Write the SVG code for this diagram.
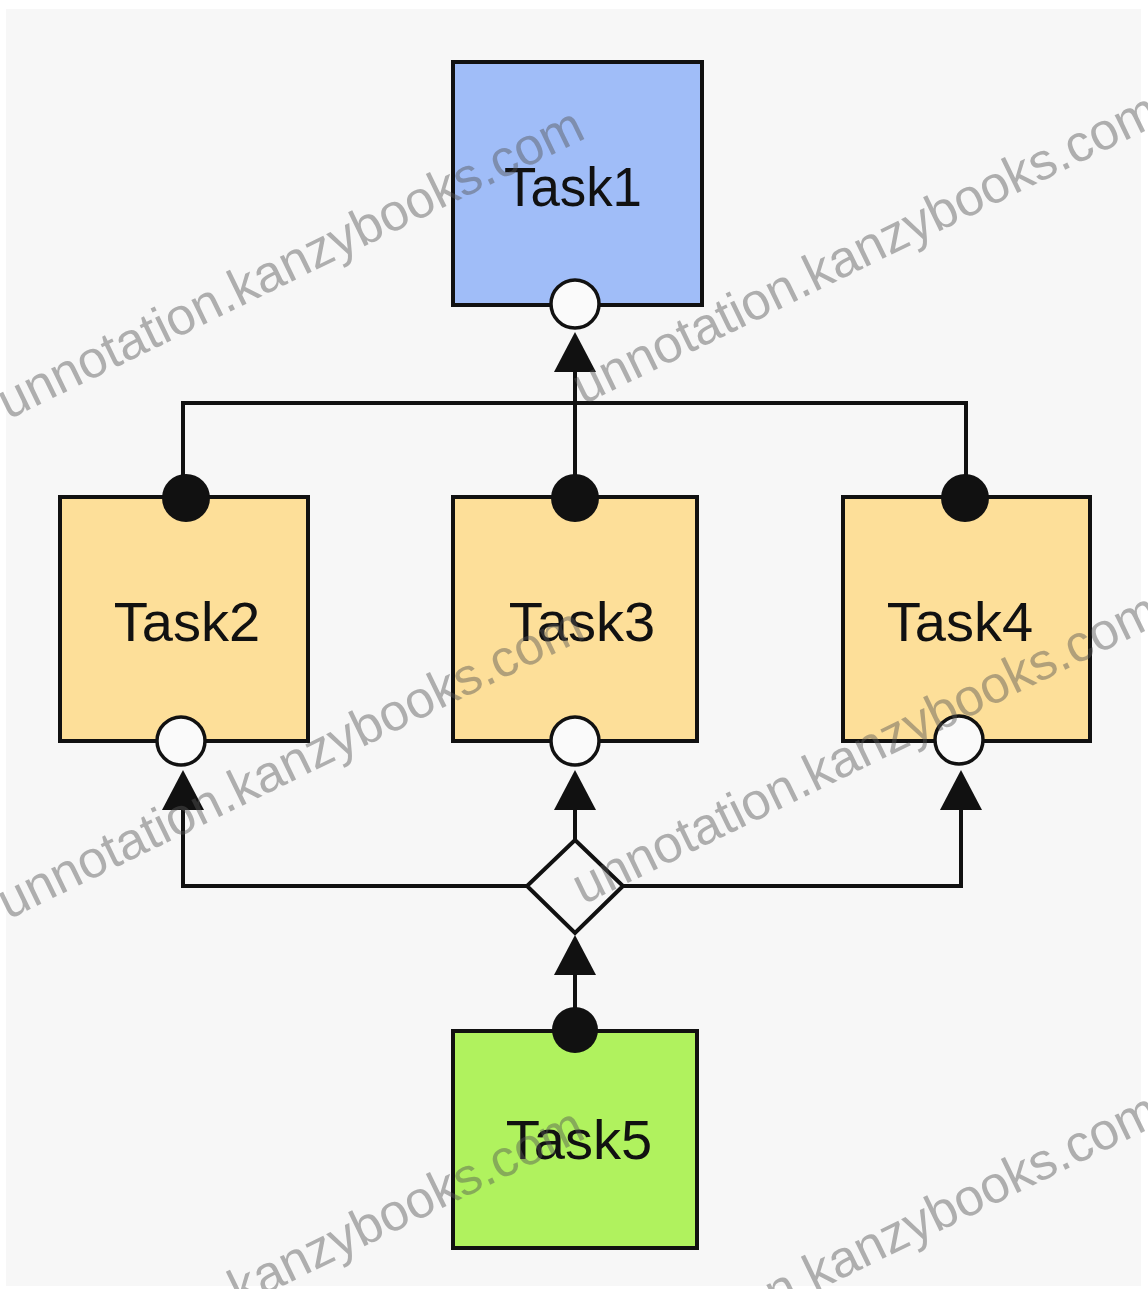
<svg xmlns="http://www.w3.org/2000/svg" width="1148" height="1289" viewBox="0 0 1148 1289">
  <style>
    .box { stroke: #111; stroke-width: 4; }
    .task1 { fill: #a0bdf8; }
    .task-mid { fill: #fddf99; }
    .task5 { fill: #b0f25e; }
    .label { font-family: "Liberation Sans", Arial, sans-serif; font-size: 56px; text-anchor: middle; fill: #111; }
    .wire { fill: none; stroke: #111; stroke-width: 4; }
    .port-open { fill: #fafafa; stroke: #111; stroke-width: 3.5; }
    .port-filled { fill: #111; }
    .gate { fill: #f7f7f7; stroke: #111; stroke-width: 4; }
    .mark { font-family: "Liberation Sans", Arial, sans-serif; font-size: 52px; fill: #555; fill-opacity: 0.45; }
  </style>
  <defs>
    <marker id="arrow" viewBox="0 0 40 42" refX="0" refY="21" markerWidth="40" markerHeight="42" markerUnits="userSpaceOnUse" orient="auto">
      <path d="M0,0 L40,21 L0,42 Z" fill="#111"/>
    </marker>
  </defs>

  <!-- page -->
  <rect x="0" y="0" width="1148" height="1289" fill="#ffffff"/>
  <rect x="6" y="9" width="1135" height="1277" fill="#f7f7f7"/>

  <!-- connectors -->
  <g id="connectors">
    <!-- Task2/Task3/Task4 bus up to Task1 -->
    <path class="wire" d="M183,498 V403 H966 V498"/>
    <path class="wire" d="M575,498 V372" marker-end="url(#arrow)"/>
    <!-- Task5 into the gateway -->
    <path class="wire" d="M575,1030 V975" marker-end="url(#arrow)"/>
    <!-- gateway out to Task2/Task3/Task4 -->
    <path class="wire" d="M527,886 H183 V810" marker-end="url(#arrow)"/>
    <path class="wire" d="M623,886 H961 V810" marker-end="url(#arrow)"/>
    <path class="wire" d="M575,840 V810" marker-end="url(#arrow)"/>
  </g>

  <g id="gateway">
    <polygon class="gate" points="575,840 623,886 575,933 527,886"/>
  </g>

  <g id="task1">
    <rect class="box task1" x="453" y="62" width="249" height="243"/>
    <text class="label" x="573" y="206" fill="#0b1a33" textLength="138" lengthAdjust="spacingAndGlyphs">Task1</text>
    <circle class="port-open" cx="575" cy="304" r="24"/>
  </g>

  <g id="task2">
    <rect class="box task-mid" x="60" y="497" width="248" height="244"/>
    <text class="label" x="187" y="641">Task2</text>
    <circle class="port-filled" cx="186" cy="498" r="24"/>
    <circle class="port-open" cx="181" cy="741" r="24"/>
  </g>

  <g id="task3">
    <rect class="box task-mid" x="453" y="497" width="244" height="244"/>
    <text class="label" x="582" y="641">Task3</text>
    <circle class="port-filled" cx="575" cy="498" r="24"/>
    <circle class="port-open" cx="575" cy="741" r="24"/>
  </g>

  <g id="task4">
    <rect class="box task-mid" x="843" y="497" width="247" height="244"/>
    <text class="label" x="960" y="641">Task4</text>
    <circle class="port-filled" cx="965" cy="498" r="24"/>
    <circle class="port-open" cx="959" cy="740" r="24"/>
  </g>

  <g id="task5">
    <rect class="box task5" x="453" y="1031" width="244" height="217"/>
    <text class="label" x="579" y="1159" fill="#0a2400">Task5</text>
    <circle class="port-filled" cx="575" cy="1030" r="23"/>
  </g>

  <!-- overlay lettering -->
  <g id="overlay-text">
    <text class="mark" transform="translate(8,420) rotate(-26)">unnotation.kanzybooks.com</text>
    <text class="mark" transform="translate(583,405) rotate(-26)">unnotation.kanzybooks.com</text>
    <text class="mark" transform="translate(8,920) rotate(-26)">unnotation.kanzybooks.com</text>
    <text class="mark" transform="translate(583,905) rotate(-26)">unnotation.kanzybooks.com</text>
    <text class="mark" transform="translate(8,1420) rotate(-26)">unnotation.kanzybooks.com</text>
    <text class="mark" transform="translate(583,1405) rotate(-26)">unnotation.kanzybooks.com</text>
  </g>
</svg>
